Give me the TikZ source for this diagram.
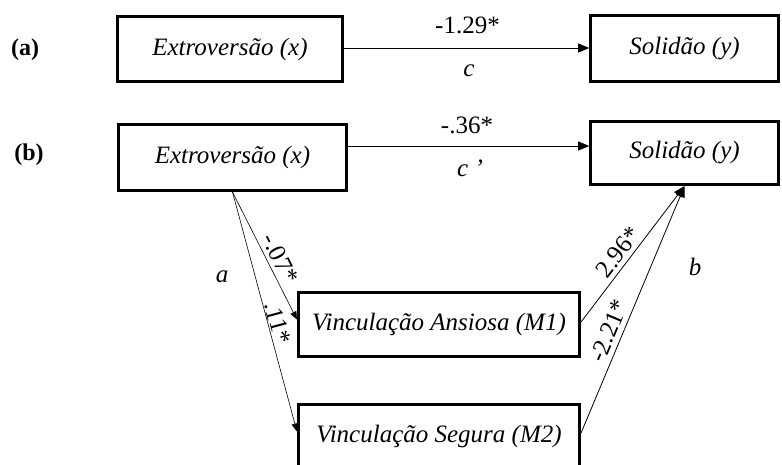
\documentclass[tikz,border=0pt]{standalone}
\usepackage{fontspec}
\setmainfont{Liberation Serif}
\usetikzlibrary{arrows.meta}
\tikzset{
  varbox/.style={draw=black, line width=2.6pt, rectangle, inner sep=0pt,
    font=\fontsize{25}{29}\selectfont\itshape},
  conn/.style={draw=black, line width=0.8pt, -{Triangle[length=11pt,width=9pt]}},
  connsm/.style={draw=black, line width=0.6pt, -{Triangle[length=8pt,width=6.5pt]}},
  lbl/.style={font=\fontsize{25}{29}\selectfont, inner sep=1pt},
  ilbl/.style={font=\fontsize{25}{29}\selectfont\itshape, inner sep=1pt},
  panel/.style={font=\fontsize{24}{28}\selectfont\bfseries, inner sep=0pt}
}
\begin{document}
\begin{tikzpicture}[x=1pt,y=-1pt]
\useasboundingbox (0,0) rectangle (782,465);
\clip (0,0) rectangle (782,465);
% panel labels
\node[panel] (pa) at (25,50) {(a)};
\node[panel] (pb) at (29,155) {(b)};
% panel (a)
\node[varbox, minimum width=225pt, minimum height=65.5pt] (xa) at (230,49) {Extroversão (x)};
\node[varbox, minimum width=188pt, minimum height=66.5pt] (ya) at (684.5,48.5) {Solidão (y)};
\draw[conn] ([yshift=1pt]xa.east) -- ([yshift=0.5pt]ya.west);
\node[lbl] (l129) at (467.5,25) {-1.29*};
\node[ilbl] (lc) at (469,71) {c};
% panel (b)
\node[varbox, minimum width=228pt, minimum height=66.5pt] (xb) at (232.5,157.5) {Extroversão (x)};
\node[varbox, minimum width=188pt, minimum height=63.5pt] (yb) at (684.5,153) {Solidão (y)};
\node[varbox, minimum width=281.5pt, minimum height=64.5pt] (m1) at (439,324.5) {Vinculação Ansiosa (M1)};
\node[varbox, minimum width=281.5pt, minimum height=64.5pt] (m2) at (439,436.5) {Vinculação Segura (M2)};
\draw[conn] ([yshift=11.5pt]xb.east) -- ([yshift=7pt]yb.west);
\node[lbl] (l36) at (467,125) {-.36*};
\node[ilbl] (lcp) at (470,168) {c ’};
\draw[connsm] (xb.south) -- ([yshift=5pt]m1.west)
  node[lbl, pos=0.566, sloped, above=3pt] (l07) {-.07*};
\draw[connsm] (xb.south) -- ([yshift=5pt]m2.west)
  node[lbl, pos=0.556, sloped, above=0pt] (l11) {.11*};
\draw[conn] ([yshift=2.5pt]m1.east) -- (yb.south)
  node[lbl, pos=0.457, sloped, above=3pt] (l296) {2.96*};
\draw[conn] ([yshift=3.5pt]m2.east) -- (yb.south)
  node[lbl, pos=0.392, sloped, above=4pt] (l221) {-2.21*};
\node[ilbl] (la) at (222,277) {a};
\node[ilbl] (lb) at (695,267) {b};
\end{tikzpicture}
\end{document}
